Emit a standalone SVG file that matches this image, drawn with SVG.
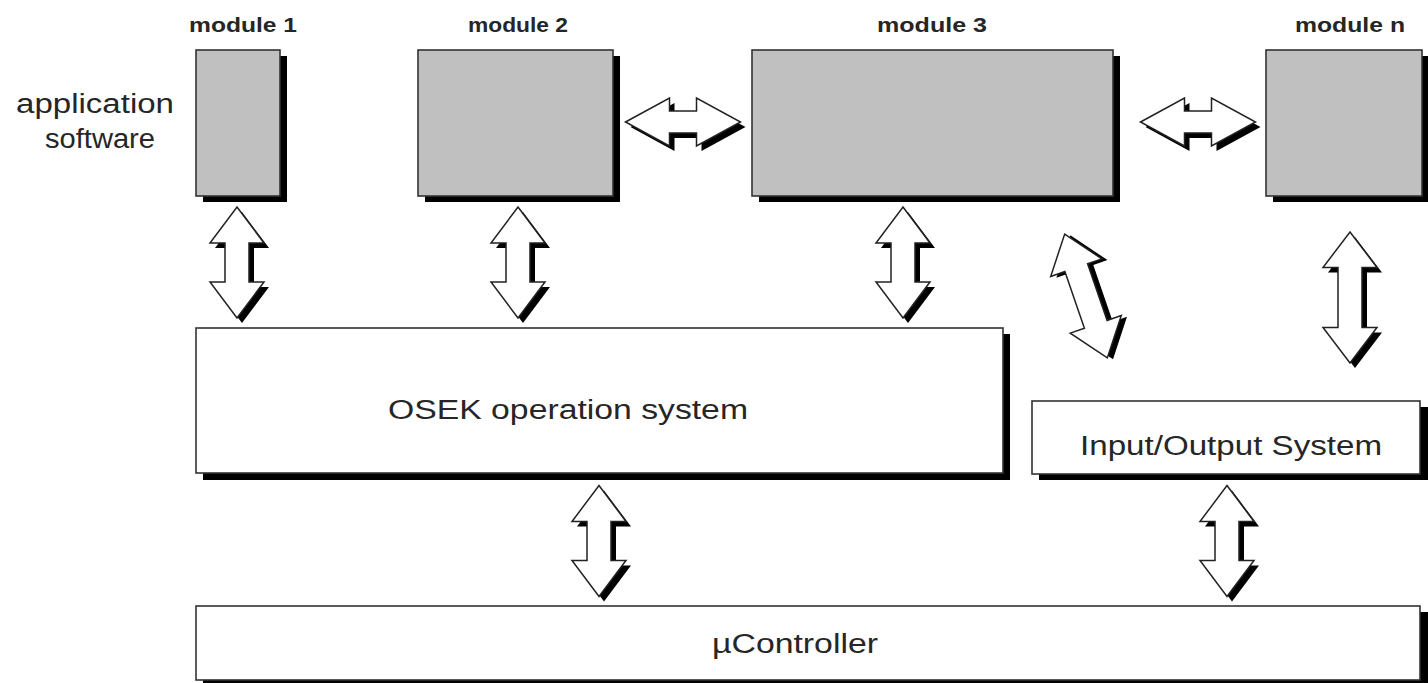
<svg xmlns="http://www.w3.org/2000/svg" xmlns:xlink="http://www.w3.org/1999/xlink" width="1428" height="683" viewBox="0 0 1428 683">
  <style>
    .box { stroke: #333; stroke-width: 1.6; }
    .mod { fill: #c0c0c0; }
    .sys { fill: #ffffff; }
    .shadow { fill: #000; }
    .arr { fill: #fff; stroke: #222; stroke-width: 1.5; stroke-linejoin: miter; }
    .ash { fill: #000; }
    .lbl { font-family: "Liberation Sans", Arial, sans-serif; fill: #262626; }
    .mlbl { font-weight: bold; font-size: 20px; text-anchor: middle; }
    .big { font-size: 27px; text-anchor: middle; }
  </style>
  <defs>
    <!-- vertical double arrow, length 111 -->
    <path id="v111" d="M0,-55.5 L27,-19.5 L12,-19.5 L12,19.5 L27,19.5 L0,55.5 L-27,19.5 L-12,19.5 L-12,-19.5 L-27,-19.5 Z"/>
    <!-- vertical double arrow, length 131 -->
    <path id="v131" d="M0,-65.5 L27,-30 L12,-30 L12,30 L27,30 L0,65.5 L-27,30 L-12,30 L-12,-30 L-27,-30 Z"/>
    <!-- horizontal double arrow, length 115 -->
    <path id="h115" d="M-57.5,0 L-13.5,-24 L-13.5,-11 L13.5,-11 L13.5,-24 L57.5,0 L13.5,24 L13.5,11 L-13.5,11 L-13.5,24 Z"/>
  </defs>

  <rect width="1428" height="683" fill="#fff"/>

  <!-- side label -->
  <g id="app-label" class="lbl">
    <text class="big" x="95" y="113" textLength="158" lengthAdjust="spacingAndGlyphs">application</text>
    <text class="big" x="100" y="148" textLength="110" lengthAdjust="spacingAndGlyphs">software</text>
  </g>

  <!-- application modules -->
  <g id="module1">
    <rect class="shadow" x="203" y="56" width="84" height="146"/>
    <rect class="box mod" x="196" y="50" width="84" height="146"/>
    <text class="lbl mlbl" x="243" y="32" textLength="108" lengthAdjust="spacingAndGlyphs">module 1</text>
  </g>
  <g id="module2">
    <rect class="shadow" x="425" y="56" width="195" height="146"/>
    <rect class="box mod" x="418" y="50" width="195" height="146"/>
    <text class="lbl mlbl" x="518" y="32" textLength="100" lengthAdjust="spacingAndGlyphs">module 2</text>
  </g>
  <g id="module3">
    <rect class="shadow" x="759" y="56" width="361" height="146"/>
    <rect class="box mod" x="752" y="50" width="361" height="146"/>
    <text class="lbl mlbl" x="932" y="32" textLength="110" lengthAdjust="spacingAndGlyphs">module 3</text>
  </g>
  <g id="modulen">
    <rect class="shadow" x="1273" y="56" width="156" height="146"/>
    <rect class="box mod" x="1266" y="50" width="156" height="146"/>
    <text class="lbl mlbl" x="1350" y="32" textLength="110" lengthAdjust="spacingAndGlyphs">module n</text>
  </g>

  <!-- system layers -->
  <g id="osek">
    <rect class="shadow" x="203" y="334" width="807" height="146"/>
    <rect class="box sys" x="196" y="328" width="807" height="145"/>
    <text class="lbl big" x="568" y="419" textLength="360" lengthAdjust="spacingAndGlyphs">OSEK operation system</text>
  </g>
  <g id="io">
    <rect class="shadow" x="1039" y="407" width="389" height="73"/>
    <rect class="box sys" x="1032" y="401" width="388" height="73"/>
    <text class="lbl big" x="1231" y="455" textLength="302" lengthAdjust="spacingAndGlyphs">Input/Output System</text>
  </g>
  <g id="ucontroller">
    <rect class="shadow" x="203" y="612" width="1225" height="74"/>
    <rect class="box sys" x="196" y="606" width="1224" height="74"/>
    <text class="lbl big" x="795" y="653" textLength="166" lengthAdjust="spacingAndGlyphs">µController</text>
  </g>

  <!-- connectors: hollow double arrows with drop shadow -->
  <g id="connectors">
    <g transform="translate(237,262.5)"><use xlink:href="#v111" class="ash" x="5" y="5"/><use xlink:href="#v111" class="arr"/></g>
    <g transform="translate(518,262.5)"><use xlink:href="#v111" class="ash" x="5" y="5"/><use xlink:href="#v111" class="arr"/></g>
    <g transform="translate(903,262.5)"><use xlink:href="#v111" class="ash" x="5" y="5"/><use xlink:href="#v111" class="arr"/></g>
    <g transform="translate(1350,297.5)"><use xlink:href="#v131" class="ash" x="5" y="5"/><use xlink:href="#v131" class="arr"/></g>
    <g transform="translate(1086,296) rotate(-19)"><use xlink:href="#v131" class="ash" x="5" y="3"/><use xlink:href="#v131" class="arr"/></g>
    <g transform="translate(599,541)"><use xlink:href="#v111" class="ash" x="5" y="5"/><use xlink:href="#v111" class="arr"/></g>
    <g transform="translate(1227,541)"><use xlink:href="#v111" class="ash" x="5" y="5"/><use xlink:href="#v111" class="arr"/></g>
    <g transform="translate(683,122)"><use xlink:href="#h115" class="ash" x="5" y="5"/><use xlink:href="#h115" class="arr"/></g>
    <g transform="translate(1198,122)"><use xlink:href="#h115" class="ash" x="5" y="5"/><use xlink:href="#h115" class="arr"/></g>
  </g>
</svg>
